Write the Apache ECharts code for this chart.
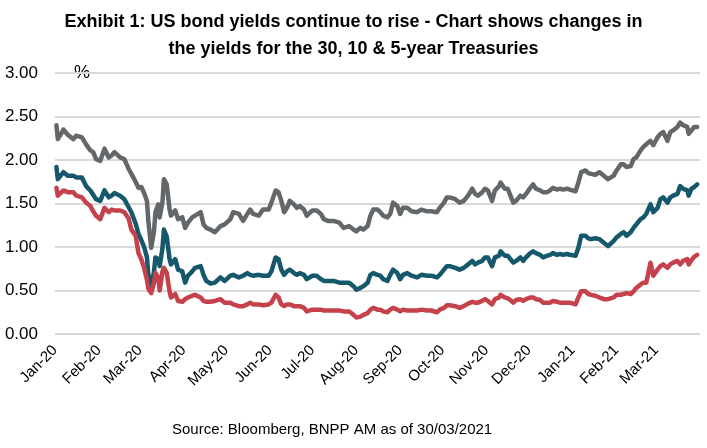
<!DOCTYPE html>
<html>
<head>
<meta charset="utf-8">
<script src="https://cdn.jsdelivr.net/npm/echarts@6/dist/echarts.min.js"></script>
<style>
  html, body { margin: 0; padding: 0; background: #fff; }
  #chart { width: 707px; height: 448px; }
</style>
</head>
<body>
<div id="chart"></div>
<script>
(function () {
  'use strict';

  var titleLines = ['Exhibit 1: US bond yields continue to rise - Chart shows changes in',
                    'the yields for the 30, 10 & 5-year Treasuries'];
  var sourceText = 'Source: Bloomberg, BNPP AM as of 30/03/2021';
  var unitLabel = '%';
  var monthNames = ['Jan', 'Feb', 'Mar', 'Apr', 'May', 'Jun', 'Jul', 'Aug', 'Sep', 'Oct', 'Nov', 'Dec'];
  var lastLabel = '2021-03-01';

  var dates = [
    '2020-01-02','2020-01-03','2020-01-07','2020-01-10','2020-01-14','2020-01-16','2020-01-20','2020-01-23','2020-01-26','2020-01-28',
    '2020-01-30','2020-02-02','2020-02-05','2020-02-08','2020-02-10','2020-02-12','2020-02-16','2020-02-19','2020-02-22','2020-02-24',
    '2020-02-27','2020-02-29','2020-03-02','2020-03-04','2020-03-06','2020-03-07','2020-03-09','2020-03-11','2020-03-12','2020-03-14',
    '2020-03-15','2020-03-17','2020-03-18','2020-03-20','2020-03-22','2020-03-23','2020-03-26','2020-03-28','2020-03-31','2020-04-02',
    '2020-04-04','2020-04-07','2020-04-09','2020-04-13','2020-04-15','2020-04-17','2020-04-20','2020-04-23','2020-04-27',
    '2020-04-30','2020-05-04','2020-05-06','2020-05-10','2020-05-13','2020-05-16','2020-05-18','2020-05-20','2020-05-24','2020-05-27',
    '2020-05-31','2020-06-02','2020-06-05','2020-06-07','2020-06-09','2020-06-11','2020-06-13','2020-06-15','2020-06-18','2020-06-20',
    '2020-06-22','2020-06-25','2020-06-27','2020-07-01','2020-07-04','2020-07-07','2020-07-09','2020-07-12','2020-07-16','2020-07-20',
    '2020-07-23','2020-07-27','2020-07-30','2020-08-01','2020-08-04','2020-08-06','2020-08-09','2020-08-11','2020-08-13','2020-08-16',
    '2020-08-18',
    '2020-08-20','2020-08-23','2020-08-25','2020-08-27','2020-08-30','2020-09-01','2020-09-03','2020-09-06','2020-09-09','2020-09-13',
    '2020-09-16','2020-09-20','2020-09-23','2020-09-27','2020-09-29','2020-10-02','2020-10-04','2020-10-06','2020-10-10','2020-10-13',
    '2020-10-16','2020-10-19','2020-10-22','2020-10-24','2020-10-26','2020-10-29','2020-10-31','2020-11-02','2020-11-05','2020-11-07',
    '2020-11-10','2020-11-11','2020-11-14','2020-11-16','2020-11-18','2020-11-20','2020-11-22','2020-11-25','2020-11-27','2020-11-29',
    '2020-12-02','2020-12-04','2020-12-06','2020-12-09',
    '2020-12-11','2020-12-14','2020-12-16','2020-12-18','2020-12-21','2020-12-23','2020-12-25','2020-12-28','2020-12-30','2021-01-03',
    '2021-01-05','2021-01-07','2021-01-10','2021-01-12','2021-01-14','2021-01-17','2021-01-20','2021-01-23','2021-01-26','2021-01-30',
    '2021-02-01','2021-02-04','2021-02-06','2021-02-08','2021-02-11','2021-02-13','2021-02-15','2021-02-18','2021-02-20','2021-02-22',
    '2021-02-25','2021-02-27','2021-03-02','2021-03-04','2021-03-06','2021-03-09','2021-03-11','2021-03-13','2021-03-16','2021-03-18',
    '2021-03-20','2021-03-23','2021-03-24','2021-03-26','2021-03-28','2021-03-30'
  ];

  // 30-year
  var y30 = [
    2.40,2.24,2.35,2.29,2.24,2.28,2.26,2.18,2.11,2.09, 2.01,1.99,2.13,2.03,2.05,2.09,2.03,2.01,1.90,1.84,
    1.75,1.68,1.69,1.62,1.53,1.30,0.99,1.18,1.40,1.49, 1.34,1.52,1.78,1.72,1.43,1.36,1.42,1.32,1.34,1.22,
    1.28,1.34,1.36,1.40,1.26,1.22,1.20,1.17,1.24,
    1.26,1.32,1.40,1.38,1.30,1.38,1.43,1.38,1.36,1.43, 1.43,1.51,1.65,1.63,1.53,1.40,1.45,1.53,1.49,1.45,
    1.47,1.43,1.36,1.42,1.42,1.38,1.32,1.30,1.30,1.28, 1.22,1.24,1.20,1.18,1.22,1.20,1.24,1.36,1.43,1.43,
    1.40,
    1.36,1.34,1.38,1.51,1.47,1.38,1.45,1.45,1.41,1.40, 1.43,1.41,1.41,1.40,1.45,1.51,1.57,1.57,1.55,1.51,
    1.53,1.59,1.67,1.61,1.59,1.63,1.67,1.65,1.53,1.65, 1.70,1.74,1.67,1.67,1.59,1.51,1.53,1.59,1.57,1.61,
    1.68,1.72,1.67,1.65,
    1.63,1.63,1.65,1.68,1.66,1.67,1.66,1.67,1.66,1.64, 1.74,1.86,1.88,1.85,1.84,1.83,1.86,1.82,1.78,1.82,
    1.88,1.95,1.95,1.92,1.93,2.01,2.03,2.11,2.15,2.18, 2.22,2.17,2.26,2.30,2.32,2.22,2.32,2.34,2.38,2.43,
    2.40,2.38,2.30,2.34,2.38,2.38
  ];

  // 10-year
  var y10 = [
    1.92,1.78,1.86,1.82,1.82,1.80,1.80,1.70,1.65,1.60, 1.55,1.53,1.65,1.57,1.59,1.62,1.59,1.55,1.46,1.40,
    1.27,1.15,1.08,1.00,0.88,0.68,0.53,0.72,0.88,0.86, 0.78,0.99,1.20,1.12,0.86,0.80,0.86,0.74,0.72,0.59,
    0.67,0.72,0.76,0.78,0.68,0.61,0.58,0.59,0.65,
    0.61,0.67,0.68,0.65,0.67,0.70,0.68,0.67,0.68,0.67, 0.67,0.72,0.88,0.86,0.74,0.68,0.72,0.74,0.70,0.68,
    0.70,0.68,0.63,0.67,0.67,0.63,0.61,0.61,0.61,0.59, 0.59,0.59,0.55,0.51,0.53,0.55,0.59,0.68,0.70,0.68,
    0.67,
    0.63,0.61,0.68,0.74,0.70,0.63,0.68,0.70,0.67,0.65, 0.68,0.67,0.67,0.65,0.68,0.74,0.78,0.78,0.76,0.74,
    0.76,0.80,0.84,0.80,0.82,0.84,0.88,0.88,0.78,0.88, 0.90,0.95,0.90,0.90,0.86,0.82,0.84,0.88,0.84,0.88,
    0.93,0.95,0.93,0.91,
    0.88,0.90,0.91,0.93,0.91,0.92,0.91,0.92,0.91,0.90, 0.99,1.13,1.13,1.10,1.09,1.10,1.09,1.05,1.01,1.07,
    1.11,1.15,1.17,1.13,1.17,1.22,1.26,1.32,1.34,1.38, 1.49,1.40,1.45,1.55,1.57,1.51,1.57,1.59,1.61,1.70,
    1.67,1.65,1.59,1.67,1.69,1.72
  ];

  // 5-year
  var y5 = [
    1.68,1.59,1.65,1.63,1.63,1.59,1.57,1.51,1.47,1.41, 1.36,1.32,1.45,1.40,1.43,1.42,1.42,1.40,1.33,1.20,
    1.13,0.93,0.86,0.76,0.62,0.52,0.47,0.59,0.70,0.65, 0.50,0.72,0.76,0.70,0.49,0.42,0.46,0.38,0.37,0.40,
    0.42,0.44,0.45,0.42,0.38,0.37,0.37,0.38,0.40,
    0.36,0.36,0.34,0.32,0.32,0.34,0.36,0.34,0.34,0.33, 0.34,0.36,0.45,0.42,0.34,0.32,0.34,0.34,0.32,0.32,
    0.32,0.30,0.26,0.28,0.28,0.28,0.27,0.27,0.27,0.27, 0.26,0.26,0.22,0.19,0.20,0.22,0.24,0.28,0.30,0.28,
    0.28,
    0.26,0.25,0.28,0.30,0.28,0.26,0.28,0.27,0.27,0.27, 0.28,0.27,0.27,0.25,0.28,0.30,0.33,0.33,0.32,0.30,
    0.32,0.35,0.37,0.36,0.36,0.38,0.40,0.38,0.34,0.40, 0.42,0.45,0.42,0.41,0.39,0.36,0.39,0.40,0.38,0.40,
    0.42,0.42,0.40,0.39,
    0.36,0.36,0.36,0.38,0.37,0.36,0.36,0.36,0.36,0.34, 0.42,0.49,0.49,0.46,0.45,0.44,0.42,0.40,0.40,0.42,
    0.45,0.45,0.46,0.47,0.46,0.49,0.53,0.57,0.59,0.59, 0.82,0.67,0.74,0.78,0.80,0.76,0.80,0.82,0.84,0.80,
    0.84,0.86,0.80,0.85,0.89,0.91
  ];

  var FONT = '"Liberation Sans Narrow", "Arial Narrow", "Liberation Sans", Arial, sans-serif';
  var lastLabelTime = new Date(lastLabel).getTime();

  function pairs(vals) {
    return vals.map(function (v, i) { return [dates[i], v]; });
  }

  function lineSeries(name, vals, color) {
    return {
      name: name, type: 'line', data: pairs(vals), showSymbol: false, symbol: 'none',
      lineStyle: { color: color, width: 4.5, join: 'round', cap: 'round' },
      itemStyle: { color: color }, animation: false
    };
  }

  var chart = echarts.init(document.getElementById('chart'), null, { renderer: 'canvas' });
  chart.setOption({
    backgroundColor: '#fff',
    animation: false,
    title: {
      text: titleLines.join('\n'),
      left: 'center', top: 4,
      textStyle: { fontFamily: FONT, fontSize: 18, fontWeight: 'bold', color: '#000', lineHeight: 27 }
    },
    grid: { left: 55, right: 7, top: 73, bottom: 114, containLabel: false },
    xAxis: {
      type: 'time',
      min: '2020-01-01', max: '2021-04-01',
      minInterval: 28 * 24 * 3600 * 1000,
      maxInterval: 31 * 24 * 3600 * 1000,
      axisLine: { show: false },
      axisTick: { show: false },
      splitLine: { show: false },
      axisLabel: {
        rotate: 45, margin: 14, fontFamily: FONT, fontSize: 15, color: '#000',
        hideOverlap: false,
        formatter: function (v) {
          if (v > lastLabelTime + 5 * 24 * 3600 * 1000) return '';
          var d = new Date(v);
          return monthNames[d.getMonth()] + '-' + String(d.getFullYear()).slice(2);
        }
      }
    },
    yAxis: {
      type: 'value', min: 0, max: 3, interval: 0.5,
      axisLine: { show: false }, axisTick: { show: false },
      splitLine: { lineStyle: { color: '#d9d9d9', width: 2 } },
      axisLabel: {
        margin: 17, fontFamily: FONT, fontSize: 17, color: '#000',
        formatter: function (v) { return v.toFixed(2); }
      }
    },
    graphic: [
      { type: 'text', left: 74, top: 64, style: { text: unitLabel, font: '18px ' + FONT, fill: '#000' } },
      { type: 'text', left: 172, top: 422, style: { text: sourceText, font: '15px ' + FONT, fill: '#000' } }
    ],
    series: [
      lineSeries('30Y', y30, '#63676a'),
      lineSeries('10Y', y10, '#15586b'),
      lineSeries('5Y', y5, '#c5414b')
    ]
  });
})();
</script>
</body>
</html>
